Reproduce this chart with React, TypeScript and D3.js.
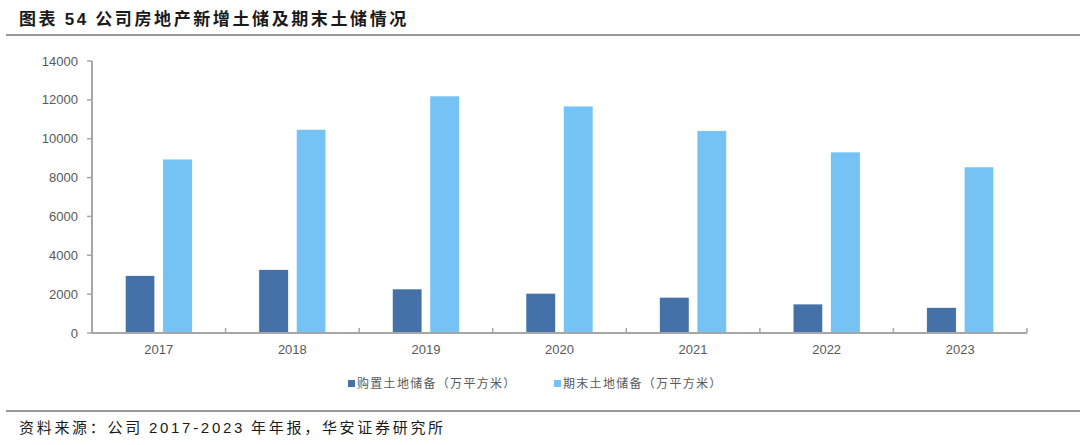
import React from "react";
import * as d3 from "d3";

const years = ["2017", "2018", "2019", "2020", "2021", "2022", "2023"];
const acquired = [2950, 3260, 2265, 2045, 1840, 1490, 1310];
const ending = [8950, 10480, 12200, 11680, 10410, 9315, 8545];
const yTicks = [0, 2000, 4000, 6000, 8000, 10000, 12000, 14000];
const seriesNames = ["购置土地储备（万平方米）", "期末土地储备（万平方米）"];
const colors = ["#4472A8", "#75C3F4"];

const W = 1080, H = 445;
const left = 92, right = 1027, top = 61, bottom = 333;

export default function App() {
  const x = d3.scaleBand().domain(years).range([left, right]).paddingInner(0).paddingOuter(0);
  const y = d3.scaleLinear().domain([0, 14000]).range([bottom, top]);
  const bw = x.bandwidth();
  const barW = 29.5;
  const gap = 8;
  const axisColor = "#A6A6A6";
  const cjk = "'Noto Sans CJK SC', sans-serif";
  const latin = "Arial, 'Liberation Sans', sans-serif";
  return (
    <svg width={W} height={H} style={{ position: "absolute", left: 0, top: 0, background: "#fff" }}>
      <text x={19} y={25} fontFamily={cjk} fontWeight="bold" fontSize={17} fill="#1a1a1a" letterSpacing={2.6}>
        图表 <tspan fontFamily={latin}>54</tspan> 公司房地产新增土储及期末土储情况
      </text>
      <line x1={6} x2={1080} y1={35} y2={35} stroke="#333" strokeWidth={1} />
      {/* y axis */}
      <line x1={left} x2={left} y1={top} y2={bottom} stroke={axisColor} strokeWidth={2} />
      {yTicks.map((t) => (
        <g key={t}>
          <line x1={left - 5} x2={left} y1={y(t)} y2={y(t)} stroke={axisColor} strokeWidth={1.5} />
          <text x={78} y={y(t) + 4.5} textAnchor="end" fontFamily={latin} fontSize={13} fill="#595959">{t}</text>
        </g>
      ))}
      {/* bars */}
      {years.map((yr, i) => {
        const cx = x(yr)! + bw / 2;
        return (
          <g key={yr}>
            <rect x={cx - gap / 2 - barW} y={y(acquired[i])} width={barW} height={bottom - y(acquired[i])} fill={colors[0]} stroke="#fff" strokeWidth={0.6} />
            <rect x={cx + gap / 2} y={y(ending[i])} width={barW} height={bottom - y(ending[i])} fill={colors[1]} stroke="#fff" strokeWidth={0.6} />
            <text x={cx} y={354} textAnchor="middle" fontFamily={latin} fontSize={13} fill="#595959">{yr}</text>
          </g>
        );
      })}
      {/* x axis */}
      <line x1={left} x2={right} y1={bottom} y2={bottom} stroke={axisColor} strokeWidth={2} />
      {years.map((yr) => (
        <line key={"t" + yr} x1={x(yr)! + bw} x2={x(yr)! + bw} y1={bottom} y2={bottom - 5} stroke={axisColor} strokeWidth={1.5} />
      ))}
      {/* legend */}
      {seriesNames.map((n, i) => {
        const lx = [348, 554][i];
        return (
          <g key={n}>
            <rect x={lx} y={380} width={7} height={7} fill={colors[i]} />
            <text x={lx + 9} y={388} fontFamily={cjk} fontSize={12} fill="#595959" letterSpacing={1.3}>{n}</text>
          </g>
        );
      })}
      <line x1={6} x2={1080} y1={411} y2={411} stroke="#333" strokeWidth={1} />
      <text x={19} y={433} fontFamily={cjk} fontSize={15} fill="#1a1a1a" letterSpacing={2.7}>
        资料来源：公司 <tspan fontFamily={latin}>2017-2023</tspan> 年年报，华安证券研究所
      </text>
    </svg>
  );
}
